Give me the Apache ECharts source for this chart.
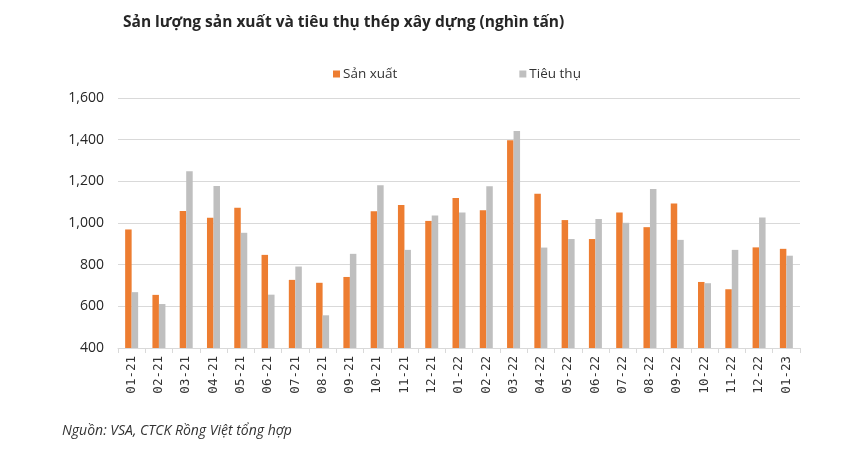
<!DOCTYPE html>
<html>
<head>
<meta charset="utf-8">
<script src="https://cdn.jsdelivr.net/npm/echarts@6/dist/echarts.min.js"></script>
<style>
html,body{margin:0;padding:0;background:#fff;}
#chart{width:854px;height:466px;}
</style>
</head>
<body>
<div id="chart"></div>
<script>
const categories = ['01-21','02-21','03-21','04-21','05-21','06-21','07-21','08-21','09-21','10-21','11-21','12-21',
  '01-22','02-22','03-22','04-22','05-22','06-22','07-22','08-22','09-22','10-22','11-22','12-22','01-23'];
const sanXuat = [969,655,1058,1025,1073,847,727,713,741,1057,1086,1010,1120,1061,1397,1140,1014,923,1050,980,1094,717,682,883,876];
const tieuThu = [668,611,1248,1178,953,656,791,557,852,1181,871,1036,1050,1177,1442,882,923,1019,1001,1163,919,711,871,1027,843];
const yTicks = [400,600,800,1000,1200,1400,1600];

const chart = echarts.init(document.getElementById('chart'), null, {renderer:'canvas'});
const fontFam = '"Open Sans",sans-serif';
chart.setOption({
  animation:false,
  backgroundColor:'#fff',
  title:{
    text:'Sản lượng sản xuất và tiêu thụ thép xây dựng (nghìn tấn)',
    left:118, top:10,
    textStyle:{fontFamily:fontFam, fontWeight:'bold', fontSize:15.5, color:'#262626'}
  },
  graphic:[{
    type:'text', left:62, top:424,
    style:{text:'Nguồn: VSA, CTCK Rồng Việt tổng hợp', font:'italic 14px "Open Sans",sans-serif', fill:'#333'}
  }],
  legend:{
    top:62, left:328, itemGap:122, itemWidth:7, itemHeight:7, icon:'rect',
    textStyle:{fontFamily:fontFam, fontSize:13.5, color:'#333', padding:[0,0,0,-2]},
    data:['Sản xuất','Tiêu thụ']
  },
  grid:{left:118, right:54, top:98, bottom:118},
  xAxis:{
    type:'category', data:categories,
    axisLine:{lineStyle:{color:'#d9d9d9', width:1}},
    axisTick:{show:true, length:5, lineStyle:{color:'#d9d9d9'}},
    axisLabel:{rotate:90, interval:0, fontFamily:'"DejaVu Sans Mono",monospace', fontSize:12.5, color:'#333', margin:8}
  },
  yAxis:{
    type:'value', min:yTicks[0], max:yTicks[yTicks.length-1], interval:200,
    axisLine:{show:false}, axisTick:{show:false},
    splitLine:{lineStyle:{color:'#d9d9d9', width:1}},
    axisLabel:{fontFamily:fontFam, fontSize:14, color:'#262626', margin:14,
      formatter:v=>v.toLocaleString('en-US')}
  },
  series:[
    {name:'Sản xuất', type:'bar', data:sanXuat, barWidth:6.5, barGap:'0%', itemStyle:{color:'#ED7D31'}},
    {name:'Tiêu thụ', type:'bar', data:tieuThu, barWidth:6.5, barGap:'0%', itemStyle:{color:'#BFBFBF'}}
  ]
});
</script>
</body>
</html>
